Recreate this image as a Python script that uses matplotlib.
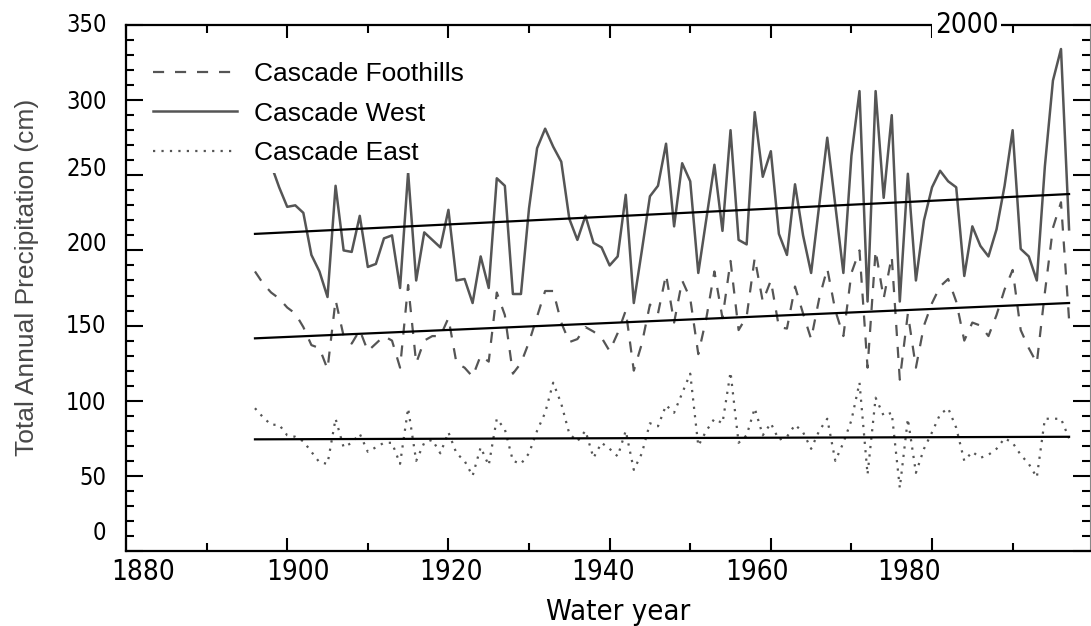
import matplotlib

matplotlib.use('Agg')
import matplotlib.pyplot as plt
import matplotlib.transforms as mtransforms
from matplotlib import font_manager
from matplotlib.ticker import MultipleLocator
import numpy as np

# annual totals (cm), water years 1896-1997
years = np.arange(1896, 1998)
west = [268, 262, 257, 242,
        229, 230, 225, 197, 186, 169, 243, 200, 199, 223,
        189, 191, 208, 210, 175, 252, 180, 212, 207, 202,
        227, 180, 181, 165, 196, 175, 248, 243, 171, 171,
        228, 268, 281, 269, 259, 221, 207, 223, 205, 202,
        190, 196, 237, 165, 200, 236, 243, 271, 216, 258,
        246, 185, 221, 257, 213, 280, 207, 204, 292, 249,
        266, 211, 197, 244, 210, 185, 230, 275, 230, 185,
        263, 306, 166, 306, 235, 290, 166, 251, 180, 220,
        242, 253, 246, 242, 183, 216, 203, 196, 214, 243,
        280, 201, 196, 180, 256, 313, 334, 214]
foothills = [186, 178, 172, 168,
             162, 158, 149, 137, 135, 121, 167, 143, 138, 147,
             133, 138, 143, 140, 122, 177, 125, 140, 143, 143,
             155, 125, 122, 116, 130, 126, 172, 157, 118, 125,
             139, 156, 173, 173, 152, 139, 141, 149, 146, 142,
             133, 145, 160, 120, 138, 164, 158, 184, 152, 180,
             168, 131, 155, 186, 155, 193, 147, 156, 195, 166,
             180, 149, 148, 176, 158, 141, 168, 188, 160, 143,
             185, 200, 122, 200, 168, 196, 114, 158, 122, 150,
             165, 176, 181, 166, 140, 152, 150, 143, 157, 174,
             187, 147, 135, 125, 172, 215, 232, 154]
east = [95, 89, 84, 84,
        77, 76, 73, 66, 59, 58, 88, 69, 72, 78,
        66, 69, 72, 72, 58, 95, 60, 72, 74, 65,
        79, 65, 60, 50, 69, 57, 88, 81, 60, 58,
        65, 80, 92, 112, 98, 78, 73, 80, 62, 72,
        68, 63, 80, 54, 65, 85, 83, 97, 92, 105,
        118, 70, 80, 88, 85, 119, 72, 77, 95, 77,
        85, 74, 76, 84, 79, 68, 80, 88, 60, 72,
        87, 112, 51, 102, 90, 92, 42, 88, 52, 68,
        79, 91, 95, 82, 60, 66, 62, 64, 68, 75,
        72, 64, 58, 49, 88, 88, 88, 75]

# linear trends (end points)
trend_years = [1896, 1997]
west_trend = [211, 237.5]
foothills_trend = [141.5, 165]
east_trend = [74.3, 76]

xticks = [1880, 1900, 1920, 1940, 1960, 1980]
yticks = [0, 50, 100, 150, 200, 250, 300, 350]

names = {f.name for f in font_manager.fontManager.ttflist}
if 'Liberation Sans Narrow' in names:
    tickfont = {'family': 'Liberation Sans Narrow'}
else:
    tickfont = {'family': 'DejaVu Sans', 'stretch': 'condensed'}

grey = '#555555'

fig = plt.figure(figsize=(10.91, 6.26), dpi=100)
ax = fig.add_axes([0.1155, 0.1198, 0.8836, 0.8403])

ax.plot(years, foothills, color=grey, lw=1.6, ls=(0, (5, 4.9)),
        label='Cascade Foothills')
ax.plot(years, west, color=grey, lw=1.8, ls='-', label='Cascade West')
ax.plot(years, east, color=grey, lw=1.6, ls=(0, (1, 2.8)),
        label='Cascade East')
for tr in [west_trend, foothills_trend, east_trend]:
    ax.plot(trend_years, tr, color='black', lw=1.6, zorder=3)

ax.set_xlim(1880, 1999.6)
ax.set_ylim(0, 350)

ax.set_xticks(xticks, labels=[str(t) for t in xticks], fontsize=20, **tickfont)
ax.set_yticks(yticks, labels=[str(t) for t in yticks], fontsize=17, **tickfont)
ax.xaxis.set_minor_locator(MultipleLocator(10))
ax.yaxis.set_minor_locator(MultipleLocator(10))
ax.tick_params(which='both', direction='in', top=True, right=True,
               width=1.5, color='black')
ax.tick_params(axis='x', which='major', length=9.5, pad=5)
ax.tick_params(axis='x', which='minor', length=6)
ax.tick_params(axis='y', which='major', length=12, pad=14)
ax.tick_params(axis='y', which='minor', length=6)

# the old figure has its labels drawn slightly off the ticks
xlab_dx = [17, 11, 3, -7, -14, -23]
for lab, dx in zip(ax.get_xticklabels(), xlab_dx):
    lab.set_transform(lab.get_transform() +
                      mtransforms.ScaledTranslation(dx / 100, 0, fig.dpi_scale_trans))
ylab_dy = [21, 0, 0, 2, 9, 9, 1, 2]
for lab, dy in zip(ax.get_yticklabels(), ylab_dy):
    lab.set_transform(lab.get_transform() +
                      mtransforms.ScaledTranslation(0, dy / 100, fig.dpi_scale_trans))

for side in ['left', 'bottom', 'top']:
    ax.spines[side].set_linewidth(1.6)
ax.spines['right'].set_linewidth(0.8)
ax.spines['right'].set_color('#888888')

ax.text(1984.3, 1.0, '2000', transform=ax.get_xaxis_transform(),
        ha='center', va='center', fontsize=20, clip_on=False, zorder=6,
        bbox=dict(facecolor='white', edgecolor='none', pad=2), **tickfont)

ax.set_xlabel('Water year', fontsize=21, **tickfont)
ax.xaxis.label.set_va('center')
ax.xaxis.set_label_coords(0.510, -0.116)
ax.set_ylabel('Total Annual Precipitation (cm)', fontsize=19,
              family='Liberation Sans', color='#484848')
ax.yaxis.label.set_va('center')
ax.yaxis.set_label_coords(-0.1027, 0.521)

leg = ax.legend(loc='upper left', bbox_to_anchor=(0.0197, 0.945),
                frameon=True, fancybox=False, edgecolor='none',
                facecolor='white', framealpha=1, borderpad=0.3,
                borderaxespad=0, handlelength=3.2, handletextpad=0.64,
                labelspacing=0.6,
                prop={'family': 'Liberation Sans', 'size': 19})

plt.savefig('out.png', dpi=100)
